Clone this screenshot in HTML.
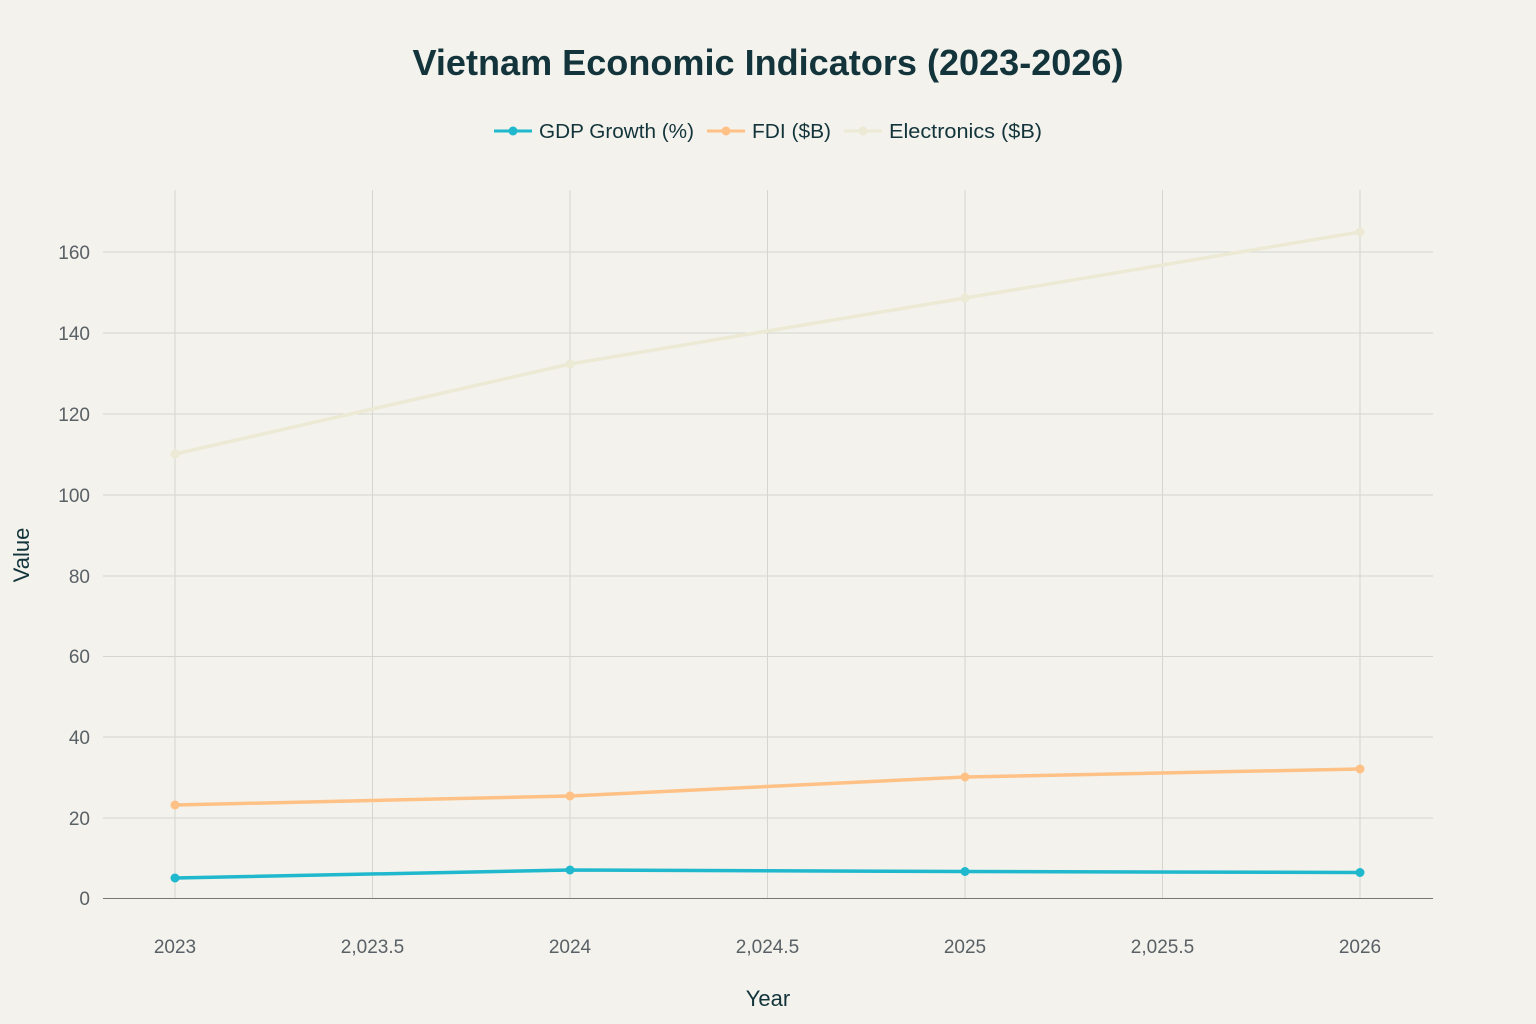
<!DOCTYPE html>
<html><head><meta charset="utf-8"><style>
html,body{margin:0;padding:0;background:#f3f2ec;}
svg{display:block;font-family:"Liberation Sans",sans-serif;}
</style></head><body>
<svg width="1536" height="1024" viewBox="0 0 1536 1024">
<rect width="1536" height="1024" fill="#f3f2ec"/>
<text x="768" y="75" text-anchor="middle" font-size="36" font-weight="bold" fill="#13343b" textLength="711" lengthAdjust="spacingAndGlyphs">Vietnam Economic Indicators (2023-2026)</text>
<g font-size="20" fill="#13343b">
<line x1="494" y1="131" x2="532" y2="131" stroke="#1fb8cd" stroke-width="3"/><circle cx="513" cy="131" r="4.5" fill="#1fb8cd"/>
<text x="539" y="138" textLength="155" lengthAdjust="spacingAndGlyphs">GDP Growth (%)</text>
<line x1="707" y1="131" x2="745" y2="131" stroke="#ffc185" stroke-width="3"/><circle cx="726" cy="131" r="4.5" fill="#ffc185"/>
<text x="752" y="138" textLength="79" lengthAdjust="spacingAndGlyphs">FDI ($B)</text>
<line x1="844" y1="131" x2="882" y2="131" stroke="#ece9d5" stroke-width="3"/><circle cx="863" cy="131" r="4.5" fill="#ece9d5"/>
<text x="889" y="138" textLength="153" lengthAdjust="spacingAndGlyphs">Electronics ($B)</text>
</g>
<g stroke="#d6d6d0" stroke-width="1">
<line x1="175" y1="190" x2="175" y2="898"/><line x1="372.5" y1="190" x2="372.5" y2="898"/>
<line x1="570" y1="190" x2="570" y2="898"/><line x1="767.5" y1="190" x2="767.5" y2="898"/>
<line x1="965" y1="190" x2="965" y2="898"/><line x1="1162.5" y1="190" x2="1162.5" y2="898"/>
<line x1="1360" y1="190" x2="1360" y2="898"/>
<line x1="103" y1="818" x2="1433" y2="818"/><line x1="103" y1="737" x2="1433" y2="737"/>
<line x1="103" y1="656.5" x2="1433" y2="656.5"/><line x1="103" y1="576" x2="1433" y2="576"/>
<line x1="103" y1="495" x2="1433" y2="495"/><line x1="103" y1="414" x2="1433" y2="414"/>
<line x1="103" y1="333" x2="1433" y2="333"/><line x1="103" y1="252" x2="1433" y2="252"/>
</g>
<line x1="103" y1="898.5" x2="1433" y2="898.5" stroke="#777" stroke-width="1"/>
<g font-size="19" fill="#5a6166" text-anchor="end">
<text x="90" y="905">0</text><text x="90" y="825">20</text><text x="90" y="744">40</text>
<text x="90" y="663">60</text><text x="90" y="583">80</text><text x="90" y="502">100</text>
<text x="90" y="421">120</text><text x="90" y="340">140</text><text x="90" y="259">160</text>
</g>
<g font-size="19" fill="#5a6166" text-anchor="middle">
<text x="175" y="953">2023</text><text x="372.5" y="953">2,023.5</text><text x="570" y="953">2024</text>
<text x="767.5" y="953">2,024.5</text><text x="965" y="953">2025</text><text x="1162.5" y="953">2,025.5</text>
<text x="1360" y="953">2026</text>
</g>
<text x="768" y="1006" text-anchor="middle" font-size="22" fill="#13343b">Year</text>
<text transform="translate(29,555) rotate(-90)" text-anchor="middle" font-size="22" fill="#13343b">Value</text>
<g fill="none" stroke-width="3.5" stroke-linejoin="round">
<polyline points="175,454 570,364 965,298 1360,232" stroke="#ece9d5"/>
<polyline points="175,805 570,796 965,777 1360,769" stroke="#ffc185"/>
<polyline points="175,878 570,870 965,871.5 1360,872.5" stroke="#1fb8cd"/>
</g>
<g fill="#ece9d5"><circle cx="175" cy="454" r="4.5"/><circle cx="570" cy="364" r="4.5"/><circle cx="965" cy="298" r="4.5"/><circle cx="1360" cy="232" r="4.5"/></g>
<g fill="#ffc185"><circle cx="175" cy="805" r="4.5"/><circle cx="570" cy="796" r="4.5"/><circle cx="965" cy="777" r="4.5"/><circle cx="1360" cy="769" r="4.5"/></g>
<g fill="#1fb8cd"><circle cx="175" cy="878" r="4.5"/><circle cx="570" cy="870" r="4.5"/><circle cx="965" cy="871.5" r="4.5"/><circle cx="1360" cy="872.5" r="4.5"/></g>
</svg>
</body></html>
